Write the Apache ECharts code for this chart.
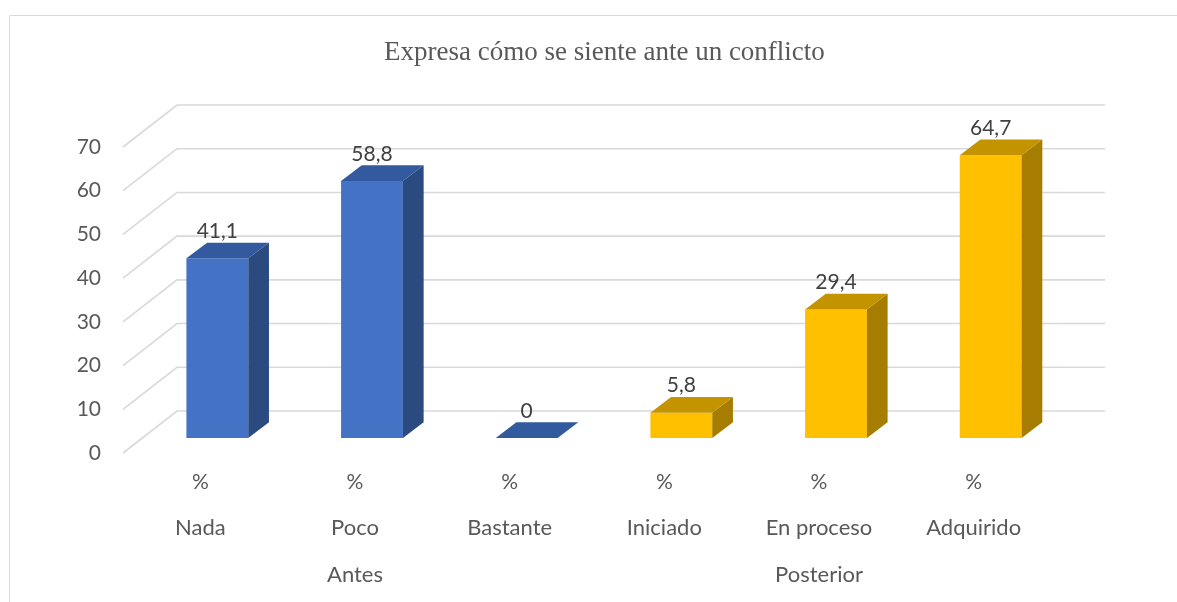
<!DOCTYPE html>
<html>
<head>
<meta charset="utf-8">
<script src="https://cdn.jsdelivr.net/npm/echarts@6/dist/echarts.min.js"></script>
<style>
html,body{margin:0;padding:0;background:#fff;}
#chart{width:1177px;height:602px;}
</style>
</head>
<body>
<div id="chart"></div>
<script>
const titleText = 'Expresa cómo se siente ante un conflicto';
const categories = ['Nada', 'Poco', 'Bastante', 'Iniciado', 'En proceso', 'Adquirido'];
const groups = ['Antes', 'Posterior'];
const antesCats = ['Nada', 'Poco', 'Bastante'];
const antesValues = [41.1, 58.8, 0];
const posteriorCats = ['Iniciado', 'En proceso', 'Adquirido'];
const posteriorValues = [5.8, 29.4, 64.7];
const yTicks = [0, 10, 20, 30, 40, 50, 60, 70];

const FONT = 'Lato';
const WALL_DX = 54, WALL_DY = -42;   // back wall depth offset
const BAR_OX = 17, BAR_OY = -15;     // bar front plane offset
const BAR_DX = 20.7, BAR_DY = -15.7; // bar depth

function fmt(v) { return String(v).replace('.', ','); }

function makeBar(colors) {
  return function (params, api) {
    const cat = api.value(0), v = api.value(1);
    const base = api.coord([cat, 0]);
    const top = api.coord([cat, v]);
    const band = api.size([1, 0])[0];
    const w = band * 0.4;
    const cx = base[0] + BAR_OX;
    const x0 = cx - w / 2, x1 = cx + w / 2;
    const yb = base[1] + BAR_OY, yt = top[1] + BAR_OY;
    const children = [];
    if (v > 0) {
      children.push({ type: 'polygon', shape: { points: [[x0, yb], [x1, yb], [x1, yt], [x0, yt]] }, style: { fill: colors.front } });
      children.push({ type: 'polygon', shape: { points: [[x1, yb], [x1 + BAR_DX, yb + BAR_DY], [x1 + BAR_DX, yt + BAR_DY], [x1, yt]] }, style: { fill: colors.side } });
    }
    children.push({ type: 'polygon', shape: { points: [[x0, yt], [x0 + BAR_DX, yt + BAR_DY], [x1 + BAR_DX, yt + BAR_DY], [x1, yt]] }, style: { fill: colors.top } });
    children.push({ type: 'text', style: { x: cx, y: yt + BAR_DY - 1, text: fmt(v), textAlign: 'center', textVerticalAlign: 'bottom', fill: '#404040', fontSize: 21, fontFamily: FONT } });
    return { type: 'group', children: children };
  };
}

const chart = echarts.init(document.getElementById('chart'), null, { renderer: 'canvas' });
chart.setOption({
  animation: false,
  backgroundColor: '#ffffff',
  title: {
    text: titleText, left: 379, top: 34,
    textStyle: { fontFamily: 'Liberation Serif', fontSize: 27, fontWeight: 'normal', color: '#595959' }
  },
  graphic: [{
    type: 'rect', z: -10,
    shape: { x: 9.5, y: 15.5, width: 1400, height: 800 },
    style: { fill: 'none', stroke: '#d9d9d9', lineWidth: 1 }
  }],
  grid: { left: 123, right: 126, top: 147, bottom: 149 },
  xAxis: [{
    type: 'category', data: categories, position: 'bottom',
    axisLine: { show: false }, axisTick: { show: false }, splitLine: { show: false },
    axisLabel: {
      margin: 6, interval: 0,
      formatter: function (v) { return '{p|%}\n{n|' + v + '}'; },
      rich: {
        p: { fontFamily: FONT, fontSize: 21, color: '#595959', lineHeight: 46 },
        n: { fontFamily: FONT, fontSize: 22, color: '#595959', lineHeight: 46 }
      }
    }
  }, {
    type: 'category', data: groups, position: 'bottom', offset: 110,
    axisLine: { show: false }, axisTick: { show: false }, splitLine: { show: false },
    axisLabel: { margin: 0, lineHeight: 24, fontFamily: FONT, fontSize: 22, color: '#595959' }
  }],
  yAxis: {
    type: 'value', min: 0, max: 70, interval: 10,
    axisLine: { show: false }, axisTick: { show: false }, splitLine: { show: false },
    axisLabel: { margin: 22, fontFamily: FONT, fontSize: 21, color: '#595959' }
  },
  series: [{
    type: 'custom', name: 'grid', xAxisIndex: 0, clip: false, silent: true, z: 1,
    data: yTicks.map(function (t) { return [categories[0], t]; }),
    encode: { x: 0, y: 1 },
    renderItem: function (params, api) {
      const cs = params.coordSys;
      const y = api.coord([0, api.value(1)])[1];
      const xl = cs.x, xr = cs.x + cs.width;
      return {
        type: 'polyline',
        shape: { points: [[xl, y], [xl + WALL_DX, y + WALL_DY], [xr + WALL_DX, y + WALL_DY]] },
        style: { stroke: '#d9d9d9', lineWidth: 1.6, fill: null }
      };
    }
  }, {
    type: 'custom', name: 'Antes', xAxisIndex: 0, clip: false, z: 2,
    data: antesCats.map(function (c, i) { return [c, antesValues[i]]; }),
    encode: { x: 0, y: 1 },
    renderItem: makeBar({ front: '#4472C4', side: '#2B4A80', top: '#335A9E' })
  }, {
    type: 'custom', name: 'Posterior', xAxisIndex: 0, clip: false, z: 2,
    data: posteriorCats.map(function (c, i) { return [c, posteriorValues[i]]; }),
    encode: { x: 0, y: 1 },
    renderItem: makeBar({ front: '#FFC000', side: '#A67D00', top: '#C49300' })
  }]
});
</script>
</body>
</html>
